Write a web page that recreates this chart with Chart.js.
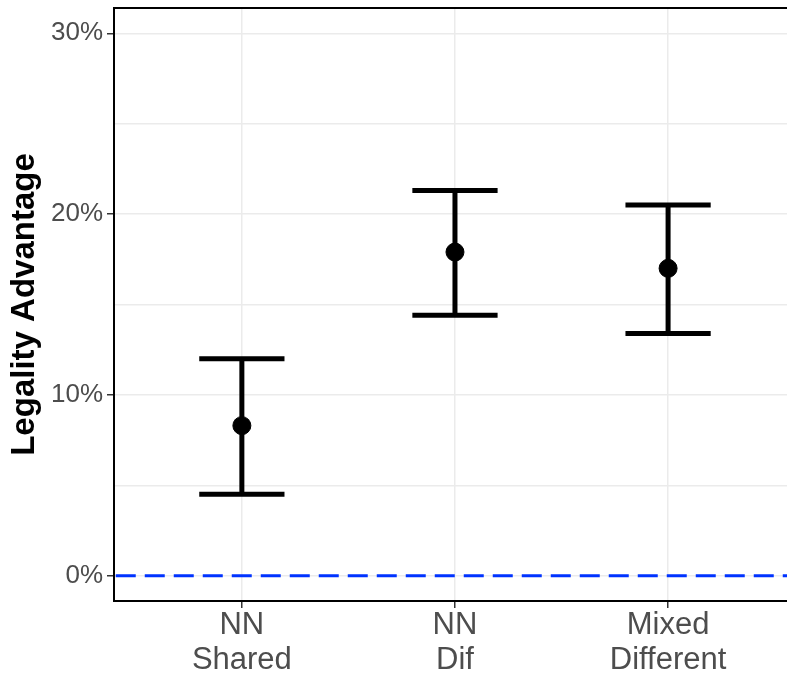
<!DOCTYPE html>
<html>
<head>
<meta charset="utf-8">
<script src="https://cdn.jsdelivr.net/npm/chart.js@4.4.1/dist/chart.umd.min.js"></script>
<style>
  html, body { margin: 0; padding: 0; background: #fff; overflow: hidden; }
  #wrap { width: 787px; height: 679px; }
</style>
</head>
<body>
<div id="wrap"><canvas id="chart" width="787" height="679"></canvas></div>
<script>
const categories = [["NN", "Shared"], ["NN", "Dif"], ["Mixed", "Different"]];
const estimates = [8.3, 17.9, 17.0];
const lowerCI = [4.5, 14.4, 13.4];
const upperCI = [12.0, 21.3, 20.5];
const yTickValues = [0, 5, 10, 15, 20, 25, 30];
const xPositions = [1, 2, 3];

const errorBars = {
  id: "errorBars",
  beforeDatasetsDraw(chart) {
    const { ctx, scales: { x, y } } = chart;
    ctx.save();
    ctx.strokeStyle = "#000";
    ctx.lineWidth = 5;
    ctx.lineCap = "butt";
    xPositions.forEach((pos, i) => {
      const cx = x.getPixelForValue(pos);
      const left = x.getPixelForValue(pos - 0.2);
      const right = x.getPixelForValue(pos + 0.2);
      const top = y.getPixelForValue(upperCI[i]);
      const bottom = y.getPixelForValue(lowerCI[i]);
      ctx.beginPath();
      ctx.moveTo(cx, top);
      ctx.lineTo(cx, bottom);
      ctx.moveTo(left, top);
      ctx.lineTo(right, top);
      ctx.moveTo(left, bottom);
      ctx.lineTo(right, bottom);
      ctx.stroke();
    });
    ctx.restore();
  },
  afterDraw(chart) {
    // panel border on top (right side falls outside the canvas)
    const { ctx, chartArea } = chart;
    ctx.save();
    ctx.strokeStyle = "#000";
    ctx.lineWidth = 2;
    ctx.beginPath();
    ctx.moveTo(chartArea.left - 1, chartArea.top);
    ctx.lineTo(chartArea.right, chartArea.top);
    ctx.stroke();
    ctx.restore();
  },
};

new Chart(document.getElementById("chart").getContext("2d"), {
  type: "scatter",
  data: {
    datasets: [
      {
        label: "Estimate",
        data: estimates.map((v, i) => ({ x: xPositions[i], y: v })),
        backgroundColor: "#000",
        borderColor: "#000",
        pointRadius: 9,
        pointHoverRadius: 9,
        order: 1,
      },
      {
        type: "line",
        label: "Zero",
        data: [{ x: 0, y: 0 }, { x: 4, y: 0 }],
        borderColor: "#0033ff",
        borderWidth: 3,
        borderDash: [20, 9],
        pointRadius: 0,
        fill: false,
        order: 2,
      },
    ],
  },
  options: {
    responsive: false,
    animation: false,
    layout: { autoPadding: false, padding: { top: 8, right: 0, left: 0, bottom: 0 } },
    plugins: {
      legend: { display: false },
      tooltip: { enabled: false },
    },
    scales: {
      x: {
        type: "linear",
        min: 0.4,
        max: 3.558,
        afterBuildTicks: (scale) => {
          scale.ticks = xPositions.map((v) => ({ value: v }));
        },
        afterFit: (scale) => {
          scale.height = 78;
          scale.paddingLeft = 0;
          scale.paddingRight = 0;
        },
        ticks: {
          autoSkip: false,
          maxRotation: 0,
          color: "#4d4d4d",
          padding: -1,
          font: { family: "'Liberation Sans', Arial, sans-serif", size: 31, lineHeight: 1.16 },
          callback: (value) => categories[xPositions.indexOf(value)] || "",
        },
        grid: {
          color: "#ebebeb",
          lineWidth: 1.5,
          tickLength: 7,
          tickColor: "#333",
          tickWidth: 1.5,
        },
        border: { color: "#000", width: 2 },
      },
      y: {
        min: -1.4,
        max: 31.4,
        afterBuildTicks: (scale) => {
          scale.ticks = yTickValues.map((v) => ({ value: v }));
        },
        afterFit: (scale) => {
          scale.width = 114;
          scale.paddingTop = 0;
          scale.paddingBottom = 0;
        },
        ticks: {
          color: "#4d4d4d",
          padding: 4,
          font: { family: "'Liberation Sans', Arial, sans-serif", size: 26 },
          callback: (value) => (value % 10 === 0 ? value + "%" : ""),
        },
        grid: {
          color: "#ebebeb",
          lineWidth: 1.5,
          tickLength: 7,
          tickWidth: 1.5,
          tickColor: (c) => (c.tick && c.tick.value % 10 === 0 ? "#333" : "rgba(0,0,0,0)"),
        },
        border: { color: "#000", width: 2 },
        title: {
          display: true,
          text: "Legality Advantage",
          color: "#000",
          padding: { top: 5, bottom: 0 },
          font: { family: "'Liberation Sans', Arial, sans-serif", size: 33, weight: "bold" },
        },
      },
    },
  },
  plugins: [errorBars],
});
</script>
</body>
</html>
